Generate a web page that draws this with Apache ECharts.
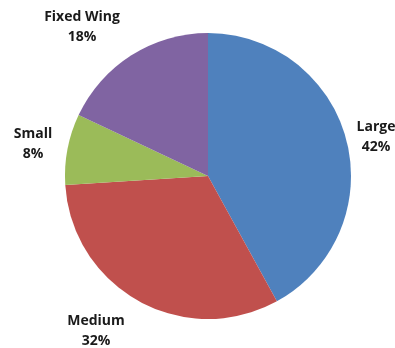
<!DOCTYPE html>
<html>
<head>
<meta charset="utf-8">
<script src="https://cdn.jsdelivr.net/npm/echarts@6/dist/echarts.min.js"></script>
<style>
  html, body { margin: 0; padding: 0; background: #fff; }
  #chart { width: 395px; height: 348px; }
</style>
</head>
<body>
<div id="chart"></div>
<script>
const categories = ['Large', 'Medium', 'Small', 'Fixed Wing'];
const shares = [42, 32, 8, 18];
const colors = ['#4F81BD', '#C0504D', '#9BBB59', '#8064A2'];

// label centres, Excel "best fit" style placement
const labelAnchors = [[376, 137], [96, 331], [33, 144], [82, 27]];

const chart = echarts.init(document.getElementById('chart'));

chart.setOption({
    animation: false,
    backgroundColor: '#fff',
    series: [{
        type: 'pie',
        center: [208, 176],
        radius: 143,
        startAngle: 90,
        clockwise: true,
        percentPrecision: 0,
        data: categories.map((name, i) => ({
            name: name,
            value: shares[i],
            itemStyle: { color: colors[i] }
        })),
        itemStyle: { borderWidth: 0 },
        label: {
            show: true,
            position: 'inside',
            overflow: 'none',
            formatter: '{b}\n{d}%',
            fontFamily: 'Open Sans',
            fontWeight: 'bold',
            fontSize: 14,
            lineHeight: 20,
            color: '#1a1a1a'
        },
        labelLine: { show: false },
        labelLayout: params => ({
            x: labelAnchors[params.dataIndex][0],
            y: labelAnchors[params.dataIndex][1],
            align: 'center',
            verticalAlign: 'middle',
            hideOverlap: false
        }),
        emphasis: { disabled: true }
    }]
});
</script>
</body>
</html>
